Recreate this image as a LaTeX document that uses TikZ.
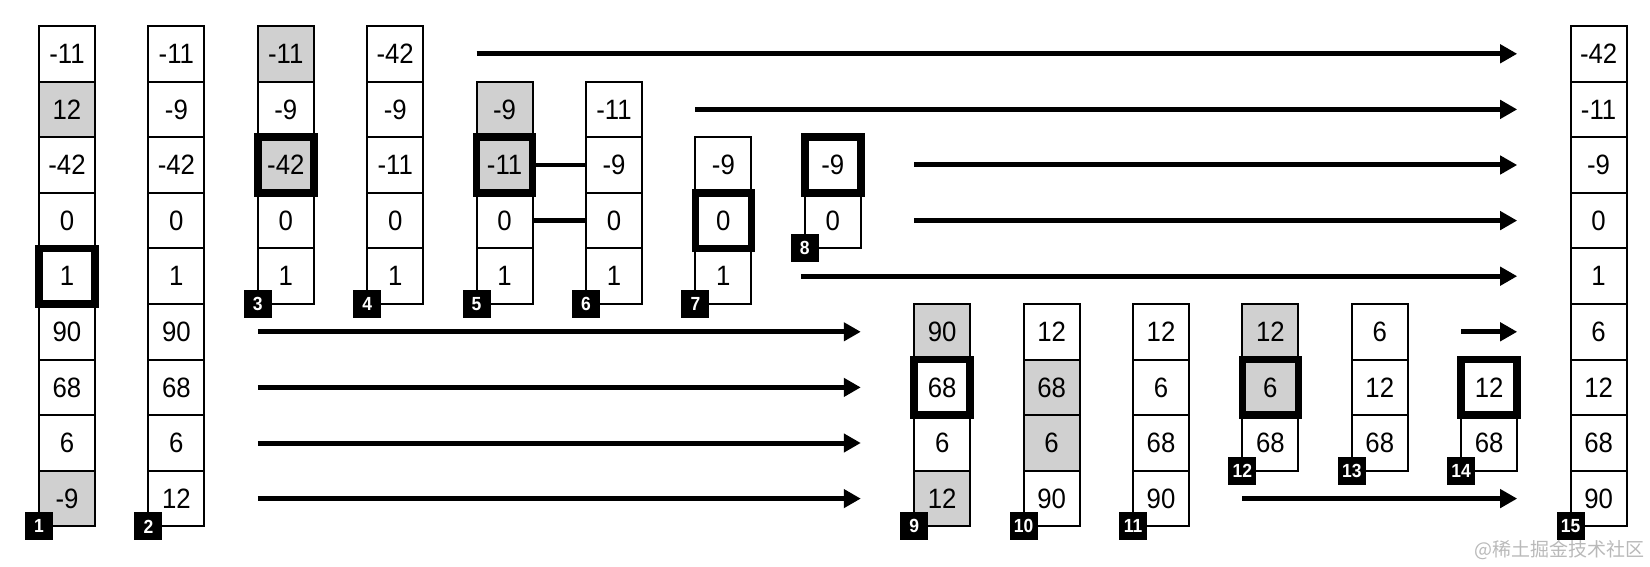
\documentclass[tikz,border=0pt]{standalone}
\usepackage{fontspec}
\setmainfont[FakeStretch=0.92]{Liberation Sans}
\newfontfamily\cjk{Noto Sans CJK SC}
\usetikzlibrary{arrows.meta}
\definecolor{cellgray}{RGB}{208,208,208}
\definecolor{wmgray}{RGB}{185,185,185}
\newcommand\mkcol[3]{\foreach \v/\s [count=\k from #2] in {#3}{\node[cell,\s] (c#1-\k) at ({67+(#1-1)*109.4},{53.8+\k*55.6}) {\v};}}
\tikzset{
  cell/.style={draw=black, line width=2pt, minimum width=56pt, minimum height=55.6pt, inner sep=0pt, outer sep=0pt, font=\fontsize{28}{28}\selectfont},
  cplain/.style={},
  cgray/.style={fill=cellgray},
  cbold/.style={line width=7.5pt},
  cgbold/.style={fill=cellgray, line width=7.5pt},
  lbl/.style={fill=black, text=white, minimum size=28pt, inner sep=0pt, outer sep=0pt, font=\bfseries\fontsize{19}{19}\selectfont},
  arr/.style={line width=5pt, -{Triangle[length=17pt,width=18pt]}},
  conn/.style={line width=4.5pt}
}
\begin{document}
\begin{tikzpicture}[x=1pt,y=-1pt]
\useasboundingbox (0,0) rectangle (1650,567);
\mkcol{1}{0}{-11/cplain,12/cgray,-42/cplain,0/cplain,1/cbold,90/cplain,68/cplain,6/cplain,-9/cgray}
\mkcol{2}{0}{-11/cplain,-9/cplain,-42/cplain,0/cplain,1/cplain,90/cplain,68/cplain,6/cplain,12/cplain}
\mkcol{3}{0}{-11/cgray,-9/cplain,-42/cgbold,0/cplain,1/cplain}
\mkcol{4}{0}{-42/cplain,-9/cplain,-11/cplain,0/cplain,1/cplain}
\mkcol{5}{1}{-9/cgray,-11/cgbold,0/cplain,1/cplain}
\mkcol{6}{1}{-11/cplain,-9/cplain,0/cplain,1/cplain}
\mkcol{7}{2}{-9/cplain,0/cbold,1/cplain}
\mkcol{8}{2}{-9/cbold,0/cplain}
\mkcol{9}{5}{90/cgray,68/cbold,6/cplain,12/cgray}
\mkcol{10}{5}{12/cplain,68/cgray,6/cgray,90/cplain}
\mkcol{11}{5}{12/cplain,6/cplain,68/cplain,90/cplain}
\mkcol{12}{5}{12/cgray,6/cgbold,68/cplain}
\mkcol{13}{5}{6/cplain,12/cplain,68/cplain}
\mkcol{14}{6}{12/cbold,68/cplain}
\mkcol{15}{0}{-42/cplain,-11/cplain,-9/cplain,0/cplain,1/cplain,6/cplain,12/cplain,68/cplain,90/cplain}
% connectors between step 5 and 6
\draw[conn] (c5-2.east) -- (c6-2.west);
\draw[conn] (c5-3.east) -- (c6-3.west);
% arrows
\draw[arr] (c5-1.west |- c15-0.west) -- (c14-7.east |- c15-0.west);
\draw[arr] (c7-2.west |- c15-1.west) -- (c14-7.east |- c15-1.west);
\draw[arr] (c9-5.west |- c15-2.west) -- (c14-7.east |- c15-2.west);
\draw[arr] (c9-5.west |- c15-3.west) -- (c14-7.east |- c15-3.west);
\draw[arr] ([xshift=-4pt]c8-3.west |- c15-4.west) -- (c14-7.east |- c15-4.west);
\draw[arr] (c3-0.west |- c15-5.west) -- (c8-2.east |- c15-5.west);
\draw[arr] (c3-0.west |- c15-6.west) -- (c8-2.east |- c15-6.west);
\draw[arr] (c3-0.west |- c15-7.west) -- (c8-2.east |- c15-7.west);
\draw[arr] (c3-0.west |- c15-8.west) -- (c8-2.east |- c15-8.west);
\draw[arr] (c14-6.west |- c15-5.west) -- (c14-6.east |- c15-5.west);
\draw[arr] (c12-5.west |- c15-8.west) -- (c14-6.east |- c15-8.west);
% step labels
\node[lbl] (l1) at (c1-8.south west) {1};
\node[lbl] (l2) at (c2-8.south west) {2};
\node[lbl] (l3) at (c3-4.south west) {3};
\node[lbl] (l4) at (c4-4.south west) {4};
\node[lbl] (l5) at (c5-4.south west) {5};
\node[lbl] (l6) at (c6-4.south west) {6};
\node[lbl] (l7) at (c7-4.south west) {7};
\node[lbl] (l8) at (c8-3.south west) {8};
\node[lbl] (l9) at (c9-8.south west) {9};
\node[lbl] (l10) at (c10-8.south west) {10};
\node[lbl] (l11) at (c11-8.south west) {11};
\node[lbl] (l12) at (c12-7.south west) {12};
\node[lbl] (l13) at (c13-7.south west) {13};
\node[lbl] (l14) at (c14-7.south west) {14};
\node[lbl] (l15) at (c15-8.south west) {15};
% watermark
\node[anchor=east, inner sep=0pt, text=wmgray, font=\cjk\fontsize{19}{19}\selectfont] (wm) at (1645,550) {@稀土掘金技术社区};
\end{tikzpicture}
\end{document}
